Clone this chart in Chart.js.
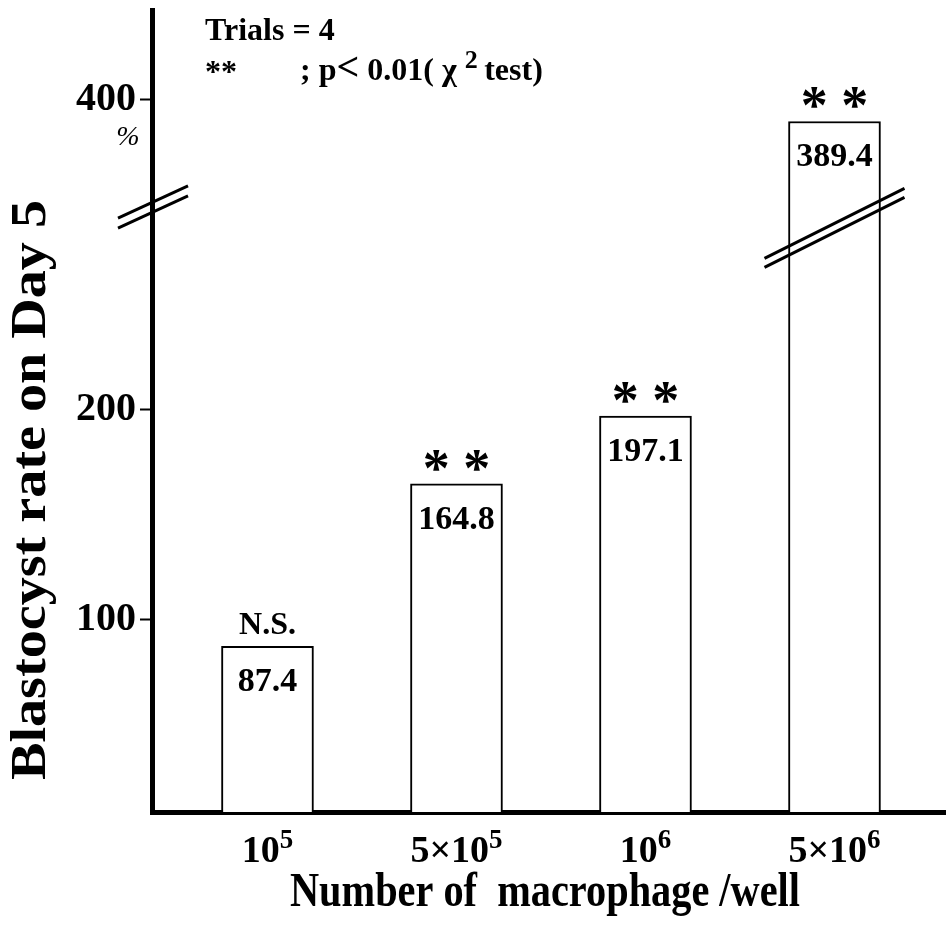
<!DOCTYPE html>
<html>
<head>
<meta charset="utf-8">
<script src="https://cdn.jsdelivr.net/npm/chart.js@4.4.1/dist/chart.umd.min.js"></script>
<style>
  html, body { margin: 0; padding: 0; background: #fff; }
  #wrap { width: 946px; height: 936px; }
</style>
</head>
<body>
<div id="wrap"><canvas id="myChart" width="946" height="936"></canvas></div>
<script>
// categories (base and exponent, drawn as 10^5 etc.)
var catBase = ['10', '5\u00D710', '10', '5\u00D710'];
var catExp = ['5', '5', '6', '6'];
// blastocyst rate, %
var values = [87.4, 164.8, 197.1, 389.4];
var marks = ['N.S.', '* *', '* *', '* *'];
var yTickValues = [100, 200, 400];
var yTickLabels = ['100', '200', '400'];

// broken y axis: everything above BREAK_FROM is pulled down by BREAK_GAP
var BREAK_FROM = 300;
var BREAK_GAP = 52;
var AXIS_BREAK_AT = 296.7;  // where the // marks sit on the axis
var BAR_BREAK_AT = 286.7;   // where the // marks sit on the last bar

var FONT = 'Liberation Serif';

function toAxis(v) {
	return v > BREAK_FROM ? v - BREAK_GAP : v;
}

function drawFit(ctx, s, x, y, size, targetW, rot) {
	ctx.save();
	ctx.font = 'bold ' + size + 'px "' + FONT + '"';
	var w = ctx.measureText(s).width;
	ctx.translate(x, y);
	if (rot) ctx.rotate(rot);
	ctx.scale(targetW / w, 1);
	ctx.textAlign = 'center';
	ctx.textBaseline = 'middle';
	ctx.fillText(s, 0, 0);
	ctx.restore();
}

// text with a raised exponent, centred on x
function drawPow(ctx, base, exp, x, y, size) {
	ctx.save();
	ctx.font = 'bold ' + size + 'px "' + FONT + '"';
	var wb = ctx.measureText(base).width;
	ctx.font = 'bold ' + Math.round(size * 0.72) + 'px "' + FONT + '"';
	var we = ctx.measureText(exp).width;
	var x0 = x - (wb + we) / 2;
	ctx.textAlign = 'left';
	ctx.textBaseline = 'alphabetic';
	ctx.font = 'bold ' + size + 'px "' + FONT + '"';
	ctx.fillText(base, x0, y);
	ctx.font = 'bold ' + Math.round(size * 0.72) + 'px "' + FONT + '"';
	ctx.fillText(exp, x0 + wb, y - size * 0.36);
	ctx.restore();
}

function breakMarks(ctx, cx, cy, half, slope, gap) {
	ctx.save();
	ctx.strokeStyle = '#000';
	ctx.lineWidth = 3;
	for (var k = -1; k <= 1; k += 2) {
		var off = k * gap / 2;
		ctx.beginPath();
		ctx.moveTo(cx - half, cy + half * slope + off);
		ctx.lineTo(cx + half, cy - half * slope + off);
		ctx.stroke();
	}
	ctx.restore();
}

var extras = {
	id: 'extras',
	afterDraw: function (chart) {
		var ctx = chart.ctx;
		var xs = chart.scales.x;
		var ys = chart.scales.y;
		ctx.save();
		ctx.fillStyle = '#000';

		// labels in and above the bars
		for (var i = 0; i < values.length; i++) {
			var px = xs.getPixelForValue(i);
			var top = ys.getPixelForValue(toAxis(values[i]));
			ctx.textAlign = 'center';
			ctx.textBaseline = 'middle';
			ctx.font = 'bold 34px "' + FONT + '"';
			ctx.fillText(values[i].toFixed(1), px, top + 36);
			if (marks[i] === 'N.S.') {
				ctx.font = 'bold 32px "' + FONT + '"';
				ctx.fillText(marks[i], px, top - 21);
			} else {
				ctx.font = 'bold 54px "' + FONT + '"';
				ctx.fillText(marks[i], px, top - 12);
			}
			drawPow(ctx, catBase[i], catExp[i], px, 862, 38);
		}

		// break marks on the axis and on the tall bar
		breakMarks(ctx, xs.left + 1, ys.getPixelForValue(AXIS_BREAK_AT), 35, 0.46, 10);
		breakMarks(ctx, xs.getPixelForValue(3), ys.getPixelForValue(BAR_BREAK_AT), 70, 0.5, 9);

		// unit under 400
		ctx.font = 'italic 28px "' + FONT + '"';
		ctx.textAlign = 'center';
		ctx.fillText('%', 128, 138);

		// legend notes
		ctx.textAlign = 'left';
		ctx.textBaseline = 'alphabetic';
		ctx.font = 'bold 32px "' + FONT + '"';
		ctx.fillText('Trials = 4', 205, 40);
		ctx.fillText('**', 205, 82);
		var x = 300;
		var parts = ['; p', '<', ' 0.01( ', '\u03C7 '];
		for (var j = 0; j < parts.length; j++) {
			ctx.font = (parts[j] === '<' ? 'bold 40px "' : 'bold 32px "') + FONT + '"';
			ctx.fillText(parts[j], x, 80);
			x += ctx.measureText(parts[j]).width;
		}
		ctx.font = 'bold 26px "' + FONT + '"';
		ctx.fillText('2', x, 68);
		x += ctx.measureText('2 ').width;
		ctx.font = 'bold 32px "' + FONT + '"';
		ctx.fillText('test)', x, 80);

		// axis titles
		drawFit(ctx, 'Number of  macrophage /well', 545, 894, 48, 510, 0);
		drawFit(ctx, 'Blastocyst rate on Day 5', 32, 490, 50, 580, -Math.PI / 2);
		ctx.restore();
	}
};

new Chart('myChart', {
	type: 'bar',
	data: {
		datasets: [{
			data: values.map(function (v, i) { return { x: i, y: toAxis(v) }; }),
			backgroundColor: '#fff',
			borderColor: '#000',
			borderWidth: 2,
			barThickness: 92
		}]
	},
	options: {
		responsive: false,
		devicePixelRatio: 1,
		animation: false,
		layout: { padding: { top: 10, right: 0, left: 0, bottom: 0 } },
		plugins: {
			legend: { display: false },
			tooltip: { enabled: false }
		},
		scales: {
			x: {
				type: 'linear',
				offset: false,
				min: -0.611,
				max: 3.59,
				grid: { display: false },
				border: { display: true, color: '#000', width: 5 },
				ticks: { display: false },
				afterFit: function (s) { s.height = 124; s.paddingLeft = 0; s.paddingRight = 0; }
			},
			y: {
				type: 'linear',
				min: 8.5,
				max: 390.5,
				afterBuildTicks: function (s) {
					s.ticks = yTickValues.map(function (v) { return { value: toAxis(v) }; });
				},
				ticks: {
					color: '#000',
					padding: 4,
					font: { family: FONT, weight: 'bold', size: 40 },
					callback: function (val, idx) { return yTickLabels[idx]; }
				},
				grid: {
					drawOnChartArea: false,
					drawTicks: true,
					tickLength: 12,
					tickWidth: 2,
					tickColor: '#000'
				},
				border: { display: true, color: '#000', width: 5 },
				afterFit: function (s) { s.width = 152; s.paddingTop = 0; s.paddingBottom = 0; }
			}
		}
	},
	plugins: [extras]
});
</script>
</body>
</html>
